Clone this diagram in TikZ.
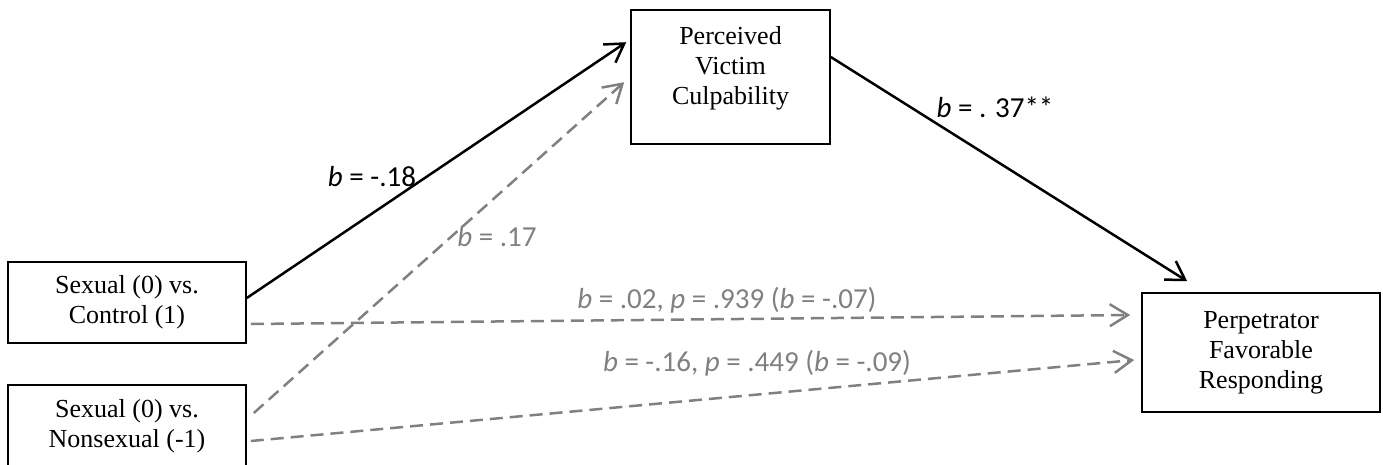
\documentclass[tikz,border=0pt]{standalone}
\usepackage{fontspec}
\setmainfont{Liberation Serif}
\newfontfamily\labelfont{Carlito}
\usepackage{xcolor}
\usetikzlibrary{arrows.meta}

\definecolor{pathgray}{RGB}{128,128,128}

\begin{document}
\begin{tikzpicture}[x=0.5pt,y=-0.5pt,
    box/.style={draw,line width=0.8pt,align=center,inner sep=0pt,
        font=\fontsize{13}{15}\selectfont},
    coef/.style={font=\labelfont\fontsize{14.5}{16}\selectfont,inner sep=0pt},
    sig/.style={line width=1.25pt,-{Straight Barb[length=9pt,width=11pt]}},
    nonsig/.style={sig,pathgray,dash pattern=on 6.5pt off 3.5pt}]
    \useasboundingbox (0,0) rectangle (1383,465);

    % boxes
    \node[box,minimum width=119pt,minimum height=40.5pt] (sc) at (127,302.5) {Sexual (0) vs.\\Control (1)};
    \node[box,minimum width=119pt,minimum height=41pt] (sn) at (127,426) {Sexual (0) vs.\\Nonsexual (-1)};
    \node[box,minimum width=99.5pt,minimum height=67pt] (pvc) at (730.5,77) {};
    \node[align=center,font=\fontsize{13}{15}\selectfont] (pvctext) at (730.5,68) {Perceived\\Victim\\Culpability};
    \node[box,minimum width=119pt,minimum height=59.5pt] (pfr) at (1261,352.5) {Perpetrator\\Favorable\\Responding};

    % paths
    \draw[sig] ([yshift=2.25pt]sc.east) -- ([xshift=-2pt,yshift=-16.5pt]pvc.north west);
    \draw[nonsig] ([xshift=3.5pt,yshift=6.5pt]sn.east) -- ([xshift=-3pt,yshift=-36.5pt]pvc.north west);
    \draw[sig] ([yshift=10pt]pvc.east) -- ([xshift=23pt,yshift=5.5pt]pfr.north west);
    \draw[nonsig] ([xshift=2pt,yshift=-10.75pt]sc.east) -- ([xshift=-5.5pt,yshift=18.75pt]pfr.west);
    \draw[nonsig] ([xshift=2pt,yshift=-7.5pt]sn.east) -- ([xshift=-3.5pt,yshift=-3.75pt]pfr.west);

    % coefficients
    \node[coef] (a1) at (372,177) {\textit{b} = -.18};
    \node[coef,pathgray] (a2) at (497,237) {\textit{b} = .17};
    \node[coef] (b1) at (995,107) {\textit{b} = . 37**};
    \node[coef,pathgray] (c1) at (727,300) {\textit{b} = .02, \textit{p} = .939 (\textit{b} = -.07)};
    \node[coef,pathgray] (c2) at (757,363) {\textit{b} = -.16, \textit{p} = .449 (\textit{b} = -.09)};
\end{tikzpicture}
\end{document}
